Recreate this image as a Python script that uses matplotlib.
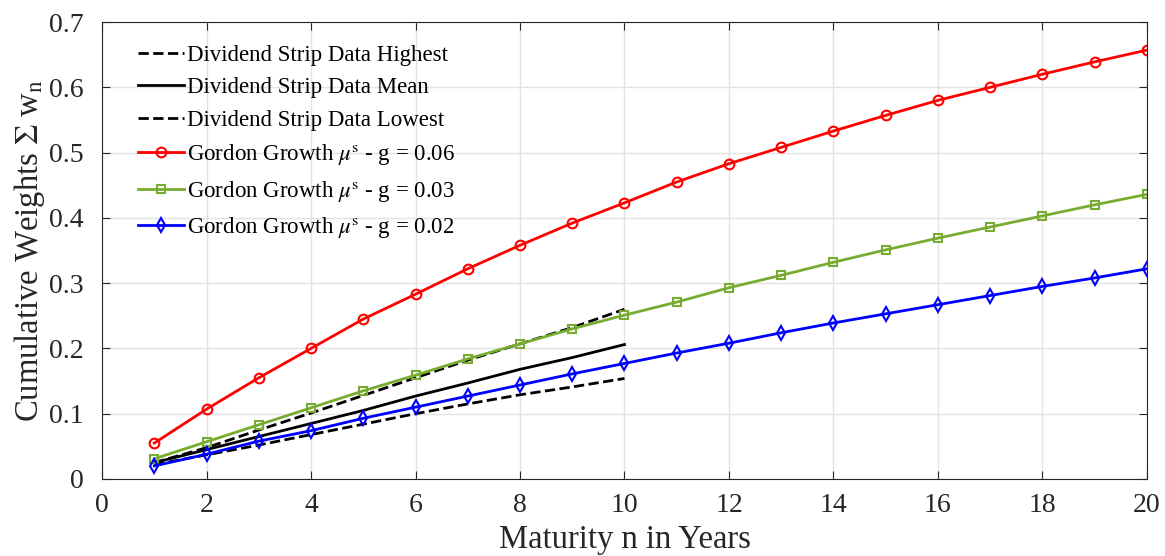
import matplotlib
matplotlib.use("Agg")
import matplotlib.pyplot as plt

plt.rcParams['font.family'] = ['Liberation Serif', 'DejaVu Serif']
plt.rcParams['mathtext.fontset'] = 'stix'

# maturities
n_data = [1, 2, 3, 4, 5, 6, 7, 8, 9, 10]
n_model = list(range(1, 21))

# dividend strip data
strip_high = [0.025, 0.048, 0.075, 0.101, 0.128, 0.155, 0.182, 0.207, 0.232, 0.260]
strip_mean = [0.025, 0.045, 0.065, 0.085, 0.105, 0.127, 0.147, 0.168, 0.186, 0.206]
strip_low = [0.022, 0.037, 0.052, 0.068, 0.084, 0.100, 0.115, 0.129, 0.141, 0.154]

# Gordon growth model curves
gordon_06 = [0.055, 0.107, 0.155, 0.200, 0.245, 0.283, 0.322, 0.358, 0.392, 0.423,
             0.455, 0.483, 0.508, 0.533, 0.557, 0.580, 0.600, 0.620, 0.639, 0.657]
gordon_03 = [0.031, 0.057, 0.083, 0.109, 0.135, 0.159, 0.184, 0.207, 0.230, 0.251,
             0.271, 0.293, 0.312, 0.332, 0.351, 0.369, 0.386, 0.403, 0.420, 0.436]
gordon_02 = [0.020, 0.038, 0.058, 0.074, 0.093, 0.110, 0.127, 0.144, 0.161, 0.177,
             0.193, 0.208, 0.224, 0.239, 0.253, 0.267, 0.281, 0.295, 0.308, 0.322]

fig = plt.figure(figsize=(11.65, 5.56), dpi=100)
ax = fig.add_axes([0.0876, 0.1385, 0.8969, 0.8219])

ax.plot(n_data, strip_high, 'k--', lw=2, label='Dividend Strip Data Highest')
ax.plot(n_data, strip_mean, 'k-', lw=2, label='Dividend Strip Data Mean')
ax.plot(n_data, strip_low, 'k--', lw=2, label='Dividend Strip Data Lowest')
ax.plot(n_model, gordon_06, '-o', color='red', lw=2, ms=7, mfc='none', mew=1.5,
        label=r'Gordon Growth $\mu^{\rm s}$ - g = 0.06')
ax.plot(n_model, gordon_03, '-s', color='#77AC30', lw=2, ms=6, mfc='none', mew=1.5,
        label=r'Gordon Growth $\mu^{\rm s}$ - g = 0.03')
ax.plot(n_model, gordon_02, '-d', color='blue', lw=2, ms=7, mfc='none', mew=1.5,
        label=r'Gordon Growth $\mu^{\rm s}$ - g = 0.02')

ax.set_xlim(0, 20)
ax.set_ylim(0, 0.7)
ax.set_xticks(range(0, 21, 2))
ax.set_yticks([0, 0.1, 0.2, 0.3, 0.4, 0.5, 0.6, 0.7])
ax.set_yticklabels(['0', '0.1', '0.2', '0.3', '0.4', '0.5', '0.6', '0.7'])
ax.tick_params(direction='in', top=True, right=True, labelsize=20, length=6, colors='#262626')
ax.tick_params(axis='x', pad=10)
ax.tick_params(axis='y', pad=13)
ax.grid(True, color='#e3e3e3', lw=1)
ax.set_axisbelow(True)
for s in ax.spines.values():
    s.set_color('#262626')

ax.set_xlabel('Maturity n in Years', fontsize=23.5, color='#262626', labelpad=5)
ax.set_ylabel(r'Cumulative Weights $\Sigma$ w$_{\rm n}$', fontsize=23.5, color='#262626',
              labelpad=2)

ax.legend(loc='upper left', bbox_to_anchor=(0.026, 0.97), borderaxespad=0,
          frameon=False, fontsize=16.5, handlelength=2.0,
          handletextpad=0.1, labelspacing=0.5)

fig.savefig('out.png', dpi=100)
